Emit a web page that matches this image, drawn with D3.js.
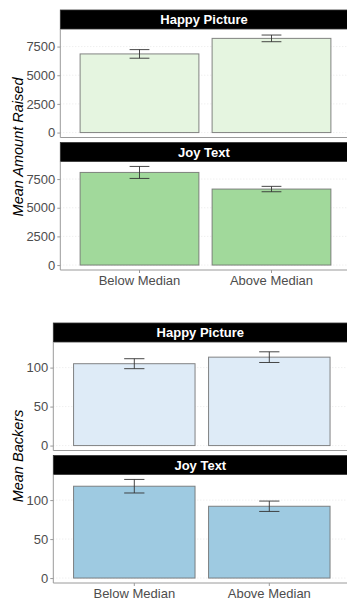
<!DOCTYPE html>
<html>
<head>
<meta charset="utf-8">
<script src="https://cdn.jsdelivr.net/npm/d3@7"></script>
<style>
  html, body { margin: 0; padding: 0; background: #fff; }
  svg { display: block; }
  text { font-family: "Liberation Sans", Arial, sans-serif; }
</style>
</head>
<body>
<svg id="chart" width="347" height="600"></svg>
<script>
// Categories and facets
const groups = ["Below Median", "Above Median"];
const facets = ["Happy Picture", "Joy Text"];

// Mean amount raised (per facet, per group) and standard errors
const raisedMean = [[6860, 8215], [8080, 6630]];
const raisedSE   = [[375, 291], [523, 235]];
const raisedTicks = [0, 2500, 5000, 7500];

// Mean number of backers and standard errors
const backersMean = [[105, 113.4], [117.8, 92.1]];
const backersSE   = [[6.4, 6.85], [8.7, 6.65]];
const backersTicks = [0, 50, 100];

// Fill colours per facet
const raisedFills  = ["#e5f5e0", "#a1d99b"];
const backersFills = ["#deebf7", "#9ecae1"];

const svg = d3.select("#chart");

function drawFigure(cfg) {
  const g = svg.append("g");
  const x = d3.scaleBand()
    .domain(groups)
    .range([cfg.left, cfg.right])
    .paddingInner(0.1)
    .paddingOuter(0.15);

  // shared y scale across facets, padded 5% like the default expansion
  const hi = d3.max(cfg.means.flatMap((row, i) => row.map((m, j) => m + cfg.se[i][j])));
  const pad = hi * 0.05;

  facets.forEach((facet, i) => {
    const stripTop = cfg.top + i * (cfg.stripH + cfg.bodyH + cfg.gap);
    const bodyTop = stripTop + cfg.stripH;
    const bodyBottom = bodyTop + cfg.bodyH;
    const y = d3.scaleLinear().domain([-pad, hi + pad]).range([bodyBottom, bodyTop]);

    // strip
    g.append("rect")
      .attr("x", cfg.left).attr("y", stripTop)
      .attr("width", cfg.right - cfg.left).attr("height", cfg.stripH)
      .attr("fill", "#000").attr("stroke", "#333").attr("stroke-width", 0.8);
    g.append("text")
      .attr("x", (cfg.left + cfg.right) / 2 - 1.5)
      .attr("y", stripTop + cfg.stripH / 2 + 4.6)
      .attr("text-anchor", "middle")
      .attr("fill", "#fff").attr("font-weight", "bold").attr("font-size", "13px")
      .text(facet);

    // grid lines
    g.append("g").selectAll("line").data(cfg.ticks).join("line")
      .attr("x1", cfg.left).attr("x2", cfg.right)
      .attr("y1", d => y(d)).attr("y2", d => y(d))
      .attr("stroke", "#e3e3e3").attr("stroke-width", 0.8)
      .attr("stroke-dasharray", "1,2");

    // bars
    g.append("g").selectAll("rect").data(groups).join("rect")
      .attr("x", d => x(d)).attr("width", x.bandwidth())
      .attr("y", (d, j) => y(cfg.means[i][j]))
      .attr("height", (d, j) => y(0) - y(cfg.means[i][j]))
      .attr("fill", cfg.fills[i])
      .attr("stroke", "#6f6f6f").attr("stroke-opacity", 0.85).attr("stroke-width", 1);

    // error bars
    const cap = x.step() * 0.075;
    const eb = g.append("g").attr("stroke", "#333").attr("stroke-width", 0.9).attr("fill", "none");
    groups.forEach((grp, j) => {
      const cx = x(grp) + x.bandwidth() / 2;
      const lo = y(cfg.means[i][j] - cfg.se[i][j]);
      const up = y(cfg.means[i][j] + cfg.se[i][j]);
      eb.append("line").attr("x1", cx).attr("x2", cx).attr("y1", lo).attr("y2", up);
      eb.append("line").attr("x1", cx - cap).attr("x2", cx + cap).attr("y1", lo).attr("y2", lo);
      eb.append("line").attr("x1", cx - cap).attr("x2", cx + cap).attr("y1", up).attr("y2", up);
    });

    // y axis
    const ya = g.append("g")
      .attr("transform", `translate(${cfg.left},0)`)
      .call(d3.axisLeft(y).tickValues(cfg.ticks).tickFormat(d3.format("d"))
        .tickSize(3).tickPadding(2).tickSizeOuter(0));
    ya.select(".domain").attr("stroke", "#9a9a9a").attr("stroke-width", 1)
      .attr("d", `M0,${bodyTop}V${bodyBottom}`);
    ya.selectAll(".tick line").attr("stroke", "#9a9a9a");
    ya.selectAll(".tick text")
      .attr("fill", "#4d4d4d").attr("font-size", "13px");

    // bottom axis line
    g.append("line")
      .attr("x1", cfg.left).attr("x2", cfg.right)
      .attr("y1", bodyBottom).attr("y2", bodyBottom)
      .attr("stroke", "#9a9a9a").attr("stroke-width", 1);

    // x axis on the last facet only
    if (i === facets.length - 1) {
      const xa = g.append("g")
        .attr("transform", `translate(0,${bodyBottom})`)
        .call(d3.axisBottom(x).tickSize(3).tickPadding(3).tickSizeOuter(0));
      xa.select(".domain").remove();
      xa.selectAll(".tick line").attr("stroke", "#9a9a9a");
      xa.selectAll(".tick text")
        .attr("fill", "#4d4d4d").attr("font-size", "13px");
    }
  });

  // y axis title
  g.append("text")
    .attr("transform", `translate(${cfg.titleX},${cfg.titleY}) rotate(-90)`)
    .attr("text-anchor", "middle")
    .attr("font-style", "italic").attr("font-size", "14.5px").attr("fill", "#000")
    .text(cfg.title);
}

drawFigure({
  left: 60.3, right: 350.7, top: 10, stripH: 19, bodyH: 108.5, gap: 5,
  means: raisedMean, se: raisedSE, ticks: raisedTicks, fills: raisedFills,
  title: "Mean Amount Raised", titleX: 23, titleY: 147
});

drawFigure({
  left: 53.3, right: 350.3, top: 323, stripH: 19, bodyH: 108.5, gap: 5,
  means: backersMean, se: backersSE, ticks: backersTicks, fills: backersFills,
  title: "Mean Backers", titleX: 23, titleY: 456
});
</script>
</body>
</html>
